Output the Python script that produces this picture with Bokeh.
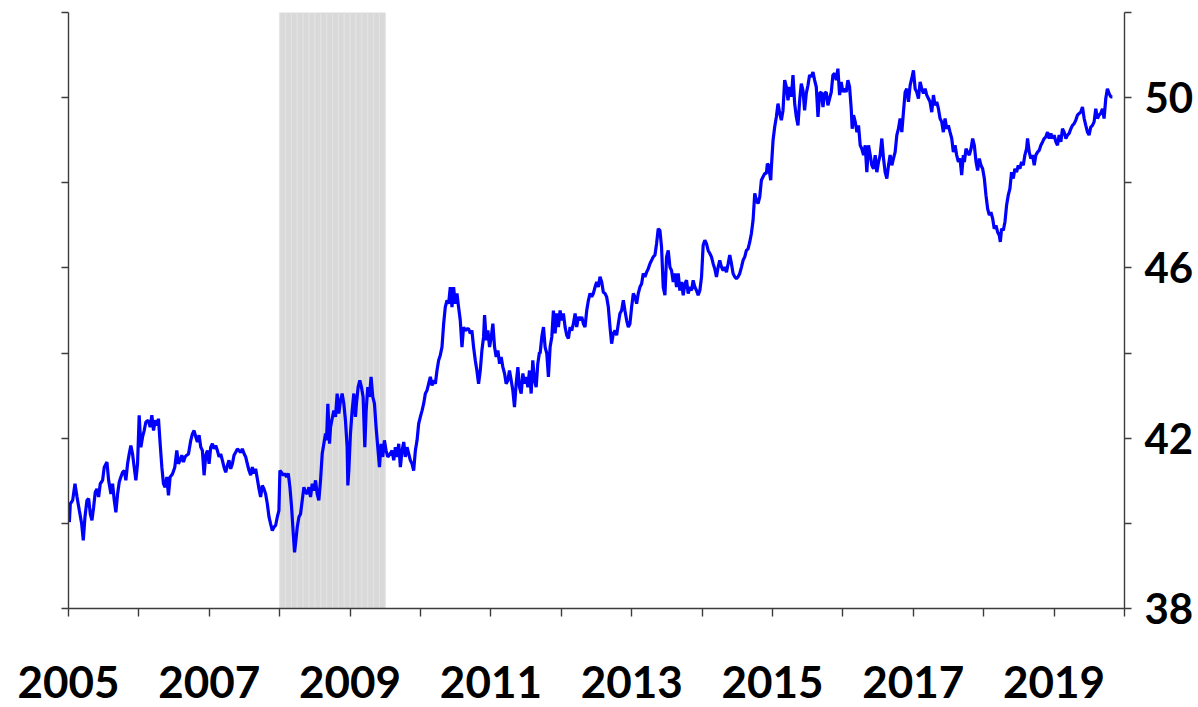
from bokeh.plotting import figure
from bokeh.models import LinearAxis, FixedTicker, Range1d
from bokeh.embed import file_html
from bokeh.resources import INLINE

# ---- data (decimal years) ----
years = [
    2005.012, 2005.026, 2005.059, 2005.092, 2005.121, 2005.154, 2005.187, 2005.210, 2005.234, 2005.262,
    2005.286, 2005.310, 2005.333, 2005.357, 2005.380, 2005.404, 2005.428, 2005.451, 2005.484, 2005.508,
    2005.546, 2005.570, 2005.603, 2005.626, 2005.650, 2005.673, 2005.697, 2005.721, 2005.744, 2005.768,
    2005.792, 2005.815, 2005.839, 2005.862, 2005.886, 2005.910, 2005.933, 2005.957, 2005.981, 2006.004,
    2006.028, 2006.052, 2006.075, 2006.099, 2006.132, 2006.160, 2006.184, 2006.208, 2006.231, 2006.264,
    2006.278, 2006.302, 2006.326, 2006.349, 2006.373, 2006.397, 2006.420, 2006.444, 2006.477, 2006.510,
    2006.538, 2006.562, 2006.586, 2006.609, 2006.633, 2006.656, 2006.680, 2006.704, 2006.737, 2006.760,
    2006.784, 2006.808, 2006.831, 2006.855, 2006.879, 2006.902, 2006.926, 2006.950, 2006.973, 2006.997,
    2007.020, 2007.044, 2007.068, 2007.091, 2007.115, 2007.139, 2007.162,
    2007.186, 2007.209, 2007.233, 2007.257, 2007.280, 2007.304, 2007.328, 2007.351, 2007.375, 2007.399,
    2007.422, 2007.446, 2007.469, 2007.493, 2007.517, 2007.540, 2007.564, 2007.588, 2007.611, 2007.635,
    2007.658, 2007.682, 2007.706, 2007.729, 2007.753, 2007.777, 2007.800, 2007.824, 2007.848, 2007.871,
    2007.895, 2007.918, 2007.942, 2007.966, 2007.989, 2008.003, 2008.022, 2008.051, 2008.070, 2008.098,
    2008.122, 2008.145, 2008.169, 2008.193, 2008.211, 2008.230, 2008.249, 2008.273, 2008.296, 2008.320,
    2008.344, 2008.367, 2008.391, 2008.415, 2008.438, 2008.462, 2008.485, 2008.509, 2008.533, 2008.556,
    2008.580, 2008.604, 2008.627, 2008.651, 2008.665, 2008.684, 2008.708, 2008.722, 2008.745, 2008.769,
    2008.793, 2008.816, 2008.840, 2008.864, 2008.887, 2008.911, 2008.934, 2008.958, 2008.968, 2008.982,
    2009.005, 2009.029, 2009.053, 2009.076, 2009.090, 2009.114, 2009.138, 2009.161, 2009.185, 2009.209,
    2009.228, 2009.251, 2009.275, 2009.298, 2009.322, 2009.346, 2009.369, 2009.393, 2009.417, 2009.440,
    2009.464, 2009.487, 2009.511, 2009.535, 2009.572,
    2009.596, 2009.620, 2009.643, 2009.667, 2009.691, 2009.714, 2009.738, 2009.762, 2009.785, 2009.809,
    2009.832, 2009.856, 2009.880, 2009.903, 2009.927, 2009.951, 2009.974, 2009.998, 2010.022, 2010.045,
    2010.069, 2010.092, 2010.116, 2010.140, 2010.163, 2010.187, 2010.211, 2010.234, 2010.258, 2010.281,
    2010.305, 2010.329, 2010.352, 2010.376, 2010.400, 2010.423, 2010.447, 2010.470, 2010.494, 2010.518,
    2010.541, 2010.565, 2010.589, 2010.612, 2010.636, 2010.660, 2010.683, 2010.707, 2010.730, 2010.754,
    2010.778, 2010.801, 2010.825, 2010.849, 2010.872, 2010.896, 2010.910, 2010.934, 2010.957, 2010.981,
    2011.005, 2011.028, 2011.052, 2011.075, 2011.099, 2011.123, 2011.146, 2011.170, 2011.194, 2011.217,
    2011.241, 2011.264, 2011.288, 2011.312, 2011.335, 2011.359, 2011.383, 2011.406, 2011.430, 2011.454,
    2011.477, 2011.501, 2011.525, 2011.548, 2011.572, 2011.595, 2011.619, 2011.643, 2011.666, 2011.690,
    2011.699, 2011.723, 2011.747, 2011.770, 2011.794, 2011.817, 2011.841, 2011.865, 2011.888, 2011.912,
    2011.936, 2011.959, 2011.983, 2012.006, 2012.030, 2012.054, 2012.077, 2012.101, 2012.125, 2012.148,
    2012.172, 2012.196, 2012.219, 2012.243, 2012.266, 2012.290, 2012.314, 2012.337, 2012.361, 2012.385,
    2012.408, 2012.432, 2012.455, 2012.479, 2012.503, 2012.526, 2012.550, 2012.574, 2012.597, 2012.621,
    2012.644, 2012.668, 2012.692, 2012.715, 2012.739, 2012.763, 2012.786, 2012.810, 2012.833, 2012.857,
    2012.881, 2012.904, 2012.928, 2012.952, 2012.975, 2012.999, 2013.023, 2013.046, 2013.070, 2013.093,
    2013.117, 2013.141, 2013.164, 2013.188, 2013.212, 2013.235, 2013.259, 2013.283, 2013.306, 2013.330,
    2013.353, 2013.377, 2013.401, 2013.424, 2013.448, 2013.472, 2013.495, 2013.519, 2013.543, 2013.566,
    2013.590, 2013.613, 2013.637, 2013.661, 2013.684, 2013.708, 2013.732, 2013.755,
    2013.779, 2013.802, 2013.826, 2013.850, 2013.873, 2013.897, 2013.921, 2013.944, 2013.968, 2013.992,
    2014.015, 2014.039, 2014.062, 2014.086, 2014.110, 2014.133, 2014.157, 2014.180, 2014.204, 2014.228,
    2014.251, 2014.275, 2014.299, 2014.322, 2014.346, 2014.370, 2014.393, 2014.417, 2014.440, 2014.464,
    2014.488, 2014.511, 2014.535, 2014.559, 2014.582, 2014.606, 2014.629, 2014.653, 2014.677, 2014.700,
    2014.724, 2014.748, 2014.771, 2014.795, 2014.819, 2014.842, 2014.866, 2014.890, 2014.913, 2014.927,
    2014.946, 2014.960, 2014.975, 2014.984, 2015.008, 2015.031, 2015.055, 2015.078, 2015.102, 2015.126,
    2015.149, 2015.173, 2015.197, 2015.220, 2015.244, 2015.268, 2015.291, 2015.315, 2015.338, 2015.362,
    2015.386, 2015.409, 2015.433, 2015.456, 2015.480, 2015.504, 2015.527, 2015.551, 2015.575, 2015.598,
    2015.622, 2015.646, 2015.669, 2015.693, 2015.717, 2015.740,
    2015.764, 2015.787, 2015.811, 2015.835, 2015.858, 2015.882, 2015.906, 2015.929, 2015.953, 2015.976,
    2016.000, 2016.024, 2016.047, 2016.071, 2016.095, 2016.118, 2016.132, 2016.151, 2016.175, 2016.199,
    2016.222, 2016.246, 2016.269, 2016.293, 2016.317, 2016.340, 2016.364, 2016.388, 2016.411, 2016.435,
    2016.459, 2016.482, 2016.506, 2016.529, 2016.553, 2016.577, 2016.600, 2016.624, 2016.648, 2016.671,
    2016.695, 2016.718, 2016.742, 2016.766, 2016.789, 2016.813, 2016.837, 2016.860, 2016.884, 2016.907,
    2016.931, 2016.955, 2016.978, 2017.002, 2017.026, 2017.049, 2017.073, 2017.097, 2017.120, 2017.144,
    2017.168, 2017.191, 2017.215, 2017.238, 2017.262, 2017.286, 2017.309, 2017.333, 2017.357, 2017.380,
    2017.404, 2017.427, 2017.451, 2017.475, 2017.498, 2017.522, 2017.546, 2017.569, 2017.593, 2017.616,
    2017.640, 2017.664, 2017.687, 2017.711, 2017.725,
    2017.749, 2017.772, 2017.796, 2017.820, 2017.843, 2017.867, 2017.891, 2017.914, 2017.938, 2017.961,
    2017.985, 2018.009, 2018.032, 2018.056, 2018.080, 2018.103, 2018.127, 2018.150, 2018.174, 2018.198,
    2018.221, 2018.236, 2018.254, 2018.278, 2018.302, 2018.325, 2018.349, 2018.372, 2018.396, 2018.420,
    2018.443, 2018.467, 2018.491, 2018.514, 2018.538, 2018.562, 2018.585, 2018.609, 2018.623, 2018.647,
    2018.670, 2018.694, 2018.718, 2018.741, 2018.765, 2018.788, 2018.812, 2018.836, 2018.859, 2018.883,
    2018.907, 2018.930, 2018.954, 2018.977, 2019.001, 2019.025, 2019.048, 2019.072, 2019.096, 2019.119,
    2019.143, 2019.167, 2019.190, 2019.214, 2019.238, 2019.261, 2019.285, 2019.308, 2019.332, 2019.356,
    2019.379, 2019.403, 2019.427, 2019.450, 2019.474, 2019.497, 2019.521, 2019.545, 2019.568, 2019.592,
    2019.616, 2019.639, 2019.663, 2019.687, 2019.710, 2019.734, 2019.757, 2019.781, 2019.805, 2019.828,
]

values = [
    40.03, 40.46, 40.54, 40.93, 40.62, 40.30, 39.99, 39.60, 40.15, 40.54,
    40.58, 40.22, 40.07, 40.38, 40.73, 40.81, 40.62, 40.93, 41.01, 41.32,
    41.44, 41.01, 40.69, 40.93, 40.54, 40.26, 40.69, 40.97, 41.09, 41.20,
    41.24, 41.01, 41.40, 41.63, 41.83, 41.63, 41.32, 41.01, 41.40, 42.54,
    41.79, 42.03, 42.18, 42.38, 42.42, 42.26, 42.54, 42.18, 42.42, 42.30,
    42.46, 41.87, 41.32, 40.93, 40.85, 41.09, 40.66, 41.09, 41.16, 41.32,
    41.71, 41.40, 41.48, 41.60, 41.44, 41.56, 41.60, 41.63, 41.95, 42.10,
    42.18, 42.03, 41.91, 42.07, 41.79, 41.71, 41.13, 41.60, 41.71, 41.40,
    41.79, 41.87, 41.75, 41.83, 41.71, 41.56, 41.63,
    41.48, 41.32, 41.20, 41.36, 41.48, 41.28, 41.40, 41.60, 41.67, 41.75,
    41.71, 41.67, 41.75, 41.64, 41.56, 41.40, 41.24, 41.13, 41.32, 41.17,
    41.28, 41.05, 40.81, 40.62, 40.89, 40.81, 40.69, 40.46, 40.15, 39.99,
    39.83, 39.91, 39.95, 40.15, 40.30, 41.24, 41.20, 41.13, 41.17, 41.09,
    41.17, 40.85, 40.38, 39.75, 39.32, 39.60, 39.91, 40.15, 40.22, 40.54,
    40.85, 40.73, 40.69, 40.85, 40.62, 40.93, 40.77, 41.01, 40.69, 40.54,
    41.01, 41.64, 41.87, 42.11, 41.95, 42.81, 41.87, 42.26, 42.46, 42.65,
    42.50, 43.05, 42.58, 42.89, 43.05, 42.81, 42.42, 41.79, 40.89, 41.24,
    42.11, 42.65, 43.05, 42.50, 42.81, 43.20, 43.36, 43.20, 42.97, 41.79,
    42.65, 43.20, 42.97, 43.44, 42.97, 42.81, 42.26, 41.79, 41.32, 41.87,
    41.56, 41.95, 41.71, 41.56, 41.64,
    41.71, 41.48, 41.79, 41.56, 41.87, 41.32, 41.71, 41.91, 41.56, 41.79,
    41.64, 41.48, 41.40, 41.24, 41.71, 41.95, 42.34, 42.50, 42.65, 42.81,
    43.05, 43.12, 43.28, 43.44, 43.24, 43.36, 43.28, 43.59, 43.83, 43.95,
    44.14, 44.69, 45.08, 45.24, 45.16, 45.55, 45.08, 45.55, 45.16, 45.40,
    45.08, 44.77, 44.14, 44.61, 44.53, 44.57, 44.57, 44.46, 44.53, 44.14,
    43.83, 43.59, 43.28, 43.59, 44.06, 44.38, 44.89, 44.30, 44.53, 44.14,
    44.38, 44.69, 44.14, 43.91, 44.06, 43.75, 43.91, 43.67, 43.52, 43.28,
    43.36, 43.59, 43.36, 43.12, 42.73, 43.28, 43.67, 43.20, 43.05, 43.52,
    43.28, 43.44, 43.20, 43.59, 43.05, 43.83, 43.36, 43.20, 43.75, 44.02,
    43.99, 44.38, 44.61, 44.14, 43.99, 43.44, 44.14, 44.38, 45.00, 44.46,
    44.93, 44.61, 45.00, 44.77, 44.93, 44.61, 44.42, 44.34, 44.61, 44.53,
    44.69, 44.93, 44.61, 44.85, 44.77, 44.85, 44.69, 44.61, 45.00, 45.24,
    45.40, 45.32, 45.40, 45.55, 45.67, 45.55, 45.79, 45.67, 45.43, 45.40,
    45.32, 45.08, 44.61, 44.22, 44.46, 44.53, 44.42, 44.69, 44.93, 45.00,
    45.24, 45.00, 44.77, 44.61, 44.69, 45.08, 45.40, 45.32, 45.16, 45.40,
    45.55, 45.63, 45.87, 45.79, 45.90, 45.98, 46.10, 46.18, 46.26, 46.30,
    46.57, 46.92, 46.88, 46.49, 45.55, 45.36, 46.26, 46.41, 46.02, 45.94,
    45.67, 45.87, 45.55, 45.87, 45.47, 45.67, 45.36, 45.63,
    45.71, 45.40, 45.55, 45.47, 45.71, 45.55, 45.47, 45.36, 45.47, 45.79,
    46.53, 46.65, 46.57, 46.41, 46.34, 46.26, 46.10, 45.98, 45.79, 46.02,
    46.18, 46.02, 45.94, 46.02, 45.90, 46.10, 46.30, 46.10, 45.87, 45.79,
    45.75, 45.79, 45.87, 46.02, 46.18, 46.26, 46.41, 46.45, 46.61, 46.81,
    47.12, 47.75, 47.59, 47.51, 47.67, 48.06, 48.14, 48.22, 48.22, 48.45,
    48.41, 48.22, 48.06, 48.37, 49.00, 49.31, 49.55, 49.86, 49.63, 49.47,
    49.70, 50.41, 50.25, 49.94, 50.25, 50.02, 50.53, 49.86, 49.55, 49.35,
    49.94, 50.33, 50.17, 49.70, 50.10, 50.29, 50.53, 50.49, 50.60, 50.41,
    50.25, 49.55, 50.10, 50.13, 49.78, 50.10,
    50.13, 49.82, 49.98, 50.13, 50.53, 50.57, 50.41, 50.68, 50.06, 50.37,
    50.13, 50.21, 50.13, 50.41, 50.25, 49.74, 49.27, 49.59, 49.43, 49.19,
    49.35, 48.88, 48.80, 48.65, 48.88, 48.25, 48.88, 48.65, 48.41, 48.33,
    48.65, 48.25, 48.49, 48.65, 49.04, 48.57, 48.25, 48.10, 48.41, 48.65,
    48.41, 48.57, 48.72, 49.12, 49.27, 49.51, 49.19, 49.66, 50.13, 50.21,
    49.90, 50.29, 50.45, 50.64, 50.21, 50.13, 49.98, 50.37, 50.21, 50.10,
    50.21, 50.06, 49.98, 49.90, 49.66, 50.06, 49.82, 49.90, 49.74, 49.51,
    49.43, 49.19, 49.51, 49.27, 49.35, 49.19, 49.04, 48.72, 48.88, 48.65,
    48.49, 48.57, 48.18, 48.65, 48.49,
    48.80, 48.72, 48.65, 48.80, 49.04, 48.88, 48.49, 48.29, 48.57, 48.41,
    48.33, 48.10, 47.71, 47.39, 47.24, 47.31, 47.16, 46.92, 47.00, 46.84,
    46.77, 46.61, 46.92, 46.88, 47.08, 47.47, 47.71, 47.86, 48.25, 48.10,
    48.33, 48.25, 48.41, 48.33, 48.49, 48.41, 48.65, 48.80, 49.04, 48.72,
    48.57, 48.65, 48.41, 48.65, 48.72, 48.76, 48.88, 48.96, 49.04, 49.08,
    49.19, 49.04, 49.16, 49.04, 49.12, 48.96, 48.88, 49.12, 48.96, 49.27,
    49.19, 49.04, 49.12, 49.16, 49.27, 49.35, 49.39, 49.47, 49.59, 49.63,
    49.66, 49.78, 49.51, 49.35, 49.19, 49.12, 49.31, 49.35, 49.43, 49.74,
    49.51, 49.59, 49.63, 49.74, 49.51, 49.98, 50.21, 50.10, 50.02, 50.02,
]

# recession months (Dec 2007 - Jun 2009), drawn as monthly bars
recession_start = 2008.0
recession_months = 18

x_ticks = list(range(2005, 2021))
x_labels = {y: (str(y) if y % 2 == 1 and y < 2020 else "") for y in x_ticks}
y_ticks = list(range(38, 53, 2))
y_labels = {v: (str(v) if v in (38, 42, 46, 50) else "") for v in y_ticks}

AXIS_COLOR = "#3c3c3c"
FONT = "Lato"

p = figure(width=1196, height=706, output_backend="svg", toolbar_location=None,
           x_range=Range1d(2005, 2020), y_range=Range1d(38, 52),
           min_border_left=68, min_border_right=70, min_border_top=12, min_border_bottom=98)
p.outline_line_color = None
p.xgrid.visible = False
p.ygrid.visible = False
p.background_fill_color = "white"
p.border_fill_color = "white"

rec_left = [recession_start + k / 12 for k in range(recession_months)]
rec_right = [recession_start + (k + 1) / 12 for k in range(recession_months)]
p.quad(left=rec_left, right=rec_right, bottom=38, top=52,
       fill_color="#d9d9d9", line_color="#e3e3e3", line_width=1, level="underlay")

p.line(years, values, line_color="#0000ff", line_width=3.2)

# bottom axis
xa = p.xaxis[0]
xa.ticker = FixedTicker(ticks=x_ticks)
xa.major_label_overrides = x_labels
xa.major_tick_out = 8
xa.major_tick_in = 0
xa.minor_tick_out = 0
xa.minor_tick_in = 0
xa.axis_line_color = AXIS_COLOR
xa.axis_line_width = 1.4
xa.major_tick_line_color = AXIS_COLOR
xa.major_tick_line_width = 1.4
xa.major_label_text_font = FONT
xa.major_label_text_font_style = "bold"
xa.major_label_text_font_size = "44px"
xa.major_label_text_color = "black"
xa.major_label_standoff = 49

# left axis: ticks only
ya = p.yaxis[0]
ya.ticker = FixedTicker(ticks=y_ticks)
ya.major_label_overrides = {v: "" for v in y_ticks}
ya.major_label_text_font_size = "1px"
ya.major_label_standoff = 0
ya.major_tick_out = 7
ya.major_tick_in = 0
ya.minor_tick_out = 0
ya.minor_tick_in = 0
ya.axis_line_color = AXIS_COLOR
ya.axis_line_width = 1.4
ya.major_tick_line_color = AXIS_COLOR
ya.major_tick_line_width = 1.4

# right axis with labels
ra = LinearAxis(ticker=FixedTicker(ticks=y_ticks))
ra.major_label_overrides = y_labels
ra.major_tick_out = 7
ra.major_tick_in = 0
ra.minor_tick_out = 0
ra.minor_tick_in = 0
ra.axis_line_color = AXIS_COLOR
ra.axis_line_width = 1.4
ra.major_tick_line_color = AXIS_COLOR
ra.major_tick_line_width = 1.4
ra.major_label_text_font = FONT
ra.major_label_text_font_style = "bold"
ra.major_label_text_font_size = "42px"
ra.major_label_text_color = "black"
ra.major_label_standoff = 13
p.add_layout(ra, "right")

open("out.html", "w").write(file_html(p, INLINE))
